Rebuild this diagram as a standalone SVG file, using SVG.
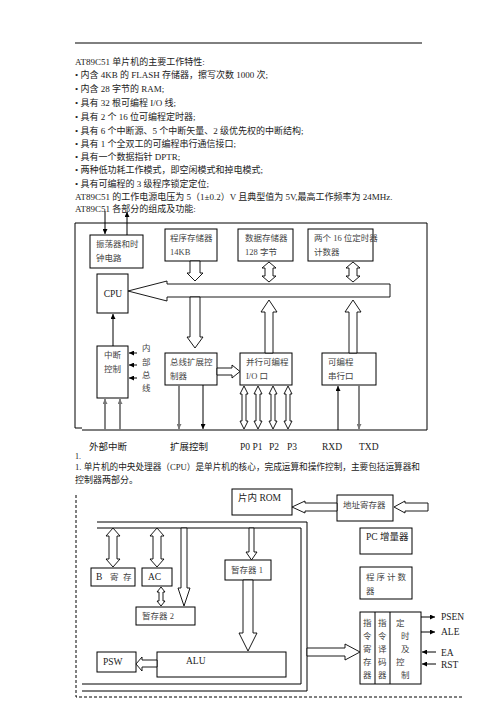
<svg xmlns="http://www.w3.org/2000/svg" width="496" height="702" viewBox="0 0 496 702">
<style>
text{font-family:'Liberation Serif','Noto Sans CJK SC',serif;fill:#222}
.p{font-size:9px}
.l{font-size:8.5px;fill:#444}
.m{font-size:9.5px}
.b{fill:#fff;stroke:#000;stroke-width:1}
.h{fill:#fff;stroke:#000;stroke-width:0.9}
.ln{stroke:#000;stroke-width:1;fill:none}
.g{stroke:#777;stroke-width:1.8;fill:none}
</style>
<defs>
<marker id="ah" viewBox="0 0 10 10" refX="10" refY="5" markerWidth="5" markerHeight="5" markerUnits="userSpaceOnUse" orient="auto"><path d="M0,0 L10,5 L0,10 z" fill="#000"/></marker>
<marker id="ag" viewBox="0 0 10 10" refX="10" refY="5" markerWidth="5" markerHeight="5" markerUnits="userSpaceOnUse" orient="auto"><path d="M0,0 L10,5 L0,10 z" fill="#777"/></marker>
</defs>

<line x1="75" y1="43" x2="422" y2="43" stroke="#000" stroke-width="1"/>
<g id="intro">
<text class="p" x="75" y="65">AT89C51 单片机的主要工作特性:</text>
<text class="p" x="75" y="78">• 内含 4KB 的 FLASH 存储器，擦写次数 1000 次;</text>
<text class="p" x="75" y="92">• 内含 28 字节的 RAM;</text>
<text class="p" x="75" y="106">• 具有 32 根可编程 I/O 线;</text>
<text class="p" x="75" y="120">• 具有 2 个 16 位可编程定时器;</text>
<text class="p" x="75" y="134">• 具有 6 个中断源、5 个中断矢量、2 级优先权的中断结构;</text>
<text class="p" x="75" y="147">• 具有 1 个全双工的可编程串行通信接口;</text>
<text class="p" x="75" y="160">• 具有一个数据指针 DPTR;</text>
<text class="p" x="75" y="173">• 两种低功耗工作模式，即空闲模式和掉电模式;</text>
<text class="p" x="75" y="187">• 具有可编程的 3 级程序锁定定位;</text>
<text class="p" x="75" y="200">AT89C51 的工作电源电压为 5（1±0.2）V 且典型值为 5V,最高工作频率为 24MHz.</text>
<text class="p" x="75" y="212">AT89C51 各部分的组成及功能:</text>
</g>

<g id="frame1"><path class="ln" d="M75 223 H427 V430 H82 M75 223 V428 H82"/></g>

<g id="osc"><rect class="b" x="90" y="235" width="53" height="33"/><text class="l" x="96" y="247">振荡器和时</text><text class="l" x="96" y="261">钟电路</text></g>
<g id="prog"><rect class="b" x="165" y="229" width="52" height="32"/><text class="l" x="170" y="241">程序存储器</text><text class="l" x="170" y="255">14KB</text></g>
<g id="data"><rect class="b" x="238" y="229" width="55" height="32"/><text class="l" x="245" y="241">数据存储器</text><text class="l" x="245" y="255">128 字节</text></g>
<g id="timer"><rect class="b" x="308" y="229" width="65" height="32"/><text class="l" x="314" y="241">两个 16 位定时器</text><text class="l" x="314" y="255">计数器</text></g>
<g id="cpu"><rect class="b" x="97" y="274" width="31" height="39"/><text class="m" x="113" y="297" text-anchor="middle">CPU</text></g>
<g id="int"><rect class="b" x="97" y="346" width="31" height="52"/><text class="l" x="104" y="358">中断</text><text class="l" x="104" y="372">控制</text></g>
<g id="busctl"><rect class="b" x="165" y="353" width="52" height="32"/><text class="l" x="170" y="365">总线扩展控</text><text class="l" x="170" y="379">制器</text></g>
<g id="pio"><rect class="b" x="240" y="353" width="52" height="32"/><text class="l" x="246" y="365">并行可编程</text><text class="l" x="246" y="379">I/O 口</text></g>
<g id="sio"><rect class="b" x="322" y="353" width="54" height="32"/><text class="l" x="328" y="365">可编程</text><text class="l" x="328" y="379">串行口</text></g>
<g id="ibus"><text class="l" x="142" y="351">内</text><text class="l" x="142" y="365">部</text><text class="l" x="142" y="378">总</text><text class="l" x="142" y="391">线</text></g>

<g id="conn1">
<line class="ln" x1="105" y1="211" x2="105" y2="234" marker-end="url(#ah)"/>
<line class="ln" x1="127" y1="235" x2="127" y2="212" marker-end="url(#ah)"/>
<polygon class="h" points="128,291 167,281 167,284 390,284 390,297 167,297 167,301"/>
<polygon class="h" points="190,261 200,261 200,273 203,273 195,281 187,273 190,273"/>
<polygon class="h" points="269,262 276,268 273,268 273,276 276,276 269,282 262,276 265,276 265,268 262,268"/>
<polygon class="h" points="353,262 360,268 357,268 357,276 360,276 353,282 346,276 349,276 349,268 346,268"/>
<polygon class="h" points="190,297 200,297 200,337 203,337 195,348 187,337 190,337"/>
<polygon class="h" points="269,300 277,312 273,312 273,353 265,353 265,312 261,312"/>
<polygon class="h" points="353,300 361,312 357,312 357,353 349,353 349,312 345,312"/>
<line class="ln" x1="113" y1="346" x2="113" y2="314" marker-end="url(#ah)"/>
<line class="ln" x1="137" y1="353" x2="129" y2="353" marker-end="url(#ah)"/>
<line class="ln" x1="137" y1="365" x2="129" y2="365" marker-end="url(#ah)"/>
<line class="ln" x1="137" y1="378" x2="129" y2="378" marker-end="url(#ah)"/>
<line class="g" x1="105" y1="430" x2="105" y2="399" marker-end="url(#ag)"/>
<line class="g" x1="120" y1="430" x2="120" y2="399" marker-end="url(#ag)"/>
<polygon class="h" points="217,368 232,368 232,365 240,371.5 232,378 232,375 217,375"/>
<line class="g" x1="179" y1="385" x2="179" y2="429" marker-end="url(#ag)"/>
<line class="ln" x1="203" y1="385" x2="203" y2="429" marker-end="url(#ah)"/>
<polygon class="h" points="244,386 248,394 246,394 246,421 248,421 244,429 240,421 242,421 242,394 240,394"/>
<polygon class="h" points="258,386 262,394 260,394 260,421 262,421 258,429 254,421 256,421 256,394 254,394"/>
<polygon class="h" points="273,386 277,394 275,394 275,421 277,421 273,429 269,421 271,421 271,394 269,394"/>
<polygon class="h" points="288,386 292,394 290,394 290,421 292,421 288,429 284,421 286,421 286,394 284,394"/>
<line class="ln" x1="338" y1="430" x2="338" y2="386" marker-end="url(#ah)"/>
<line class="g" x1="359" y1="385" x2="359" y2="429" marker-end="url(#ag)"/>
</g>

<g id="labels1">
<text class="m" x="89" y="450">外部中断</text>
<text class="m" x="170" y="450">扩展控制</text>
<text class="m" x="240" y="450">P0 P1</text>
<text class="m" x="269" y="450">P2</text>
<text class="m" x="287" y="450">P3</text>
<text class="m" x="322" y="450">RXD</text>
<text class="m" x="359" y="450">TXD</text>
<text style="font-size:8px" x="75" y="459">1.</text>
<text class="p" x="75" y="470" textLength="345" lengthAdjust="spacingAndGlyphs">1. 单片机的中央处理器（CPU）是单片机的核心，完成运算和操作控制，主要包括运算器和</text>
<text class="p" x="75" y="483">控制器两部分。</text>
</g>

<g id="frame2">
<path class="ln" d="M76 495 V697 H462" stroke-dasharray="3,2"/>
<path class="ln" d="M97 522 H307 V691 H82 M97 528 H301 V684 H82"/>
</g>

<g id="rom"><rect class="b" x="232" y="489" width="60" height="26"/><text class="m" x="238" y="501">片内 ROM</text></g>
<g id="addr"><rect class="b" x="337" y="495" width="56" height="26"/><text class="l" x="343" y="508">地址寄存器</text></g>
<g id="breg"><rect class="b" x="91" y="568" width="44" height="18"/><text class="m" x="96" y="580">B</text><text class="l" x="110" y="580">寄</text><text class="l" x="123" y="580">存</text></g>
<g id="ac"><rect class="b" x="142" y="568" width="30" height="18"/><text class="m" x="148" y="580">AC</text></g>
<g id="tmp2"><rect class="b" x="136" y="607" width="59" height="18"/><text class="l" x="142" y="619">暂存器 2</text></g>
<g id="tmp1"><rect class="b" x="225" y="560" width="46" height="20"/><text class="l" x="231" y="573">暂存器 1</text></g>
<g id="alu"><rect class="b" x="157" y="652" width="129" height="25"/><text class="m" x="186" y="664">ALU</text></g>
<g id="psw"><rect class="b" x="97" y="652" width="39" height="20"/><text class="m" x="103" y="665">PSW</text></g>
<g id="pcinc"><rect class="b" x="360" y="528" width="52" height="26"/><text class="m" x="366" y="540">PC 增量器</text></g>
<g id="pc"><rect class="b" x="360" y="567" width="52" height="32"/><text class="l" x="366" y="580" letter-spacing="2">程序计数</text><text class="l" x="366" y="594">器</text></g>
<g id="ctl">
<rect class="b" x="360" y="612" width="61" height="72"/>
<line class="ln" x1="375" y1="612" x2="375" y2="684"/>
<line class="ln" x1="390" y1="612" x2="390" y2="684"/>
<text class="l" x="363" y="626">指</text><text class="l" x="363" y="639">令</text><text class="l" x="363" y="652">寄</text><text class="l" x="363" y="665">存</text><text class="l" x="363" y="678">器</text>
<text class="l" x="378" y="626">指</text><text class="l" x="378" y="639">令</text><text class="l" x="378" y="652">译</text><text class="l" x="378" y="665">码</text><text class="l" x="378" y="678">器</text>
<text class="l" x="396" y="626">定</text><text class="l" x="401" y="639">时</text><text class="l" x="401" y="652">及</text><text class="l" x="396" y="665">控</text><text class="l" x="401" y="678">制</text>
</g>

<g id="conn2">
<polygon class="h" points="292,507 305,501 305,503 337,503 337,511 305,511 305,513"/>
<polygon class="h" points="394,507 405,501 405,503 428,503 428,511 405,511 405,513"/>
<polygon class="h" points="113,528 120,536 117,536 117,559 120,559 113,567 106,559 109,559 109,536 106,536"/>
<polygon class="h" points="157,528 164,536 161,536 161,559 164,559 157,567 150,559 153,559 153,536 150,536"/>
<polygon class="h" points="181,528 187,528 187,588 190,588 184,606 178,588 181,588"/>
<polygon class="h" points="161,587 165,592 163,592 163,601 165,601 161,606 157,601 159,601 159,592 157,592"/>
<polygon class="h" points="249,528 254,528 254,552 257,552 251.5,560 246,552 249,552"/>
<polygon class="h" points="243,580 253,580 253,633 257,633 248,651 239,633 243,633"/>
<polygon class="h" points="136,664 142,657 142,660 157,660 157,667 142,667 142,671"/>
<polygon class="h" points="307,648 345,648 345,644 360,652 345,660 345,656 307,656"/>
<line class="ln" x1="421" y1="617" x2="435" y2="617" marker-end="url(#ah)"/>
<line class="ln" x1="421" y1="632" x2="435" y2="632" marker-end="url(#ah)"/>
<line class="ln" x1="436" y1="652" x2="422" y2="652" marker-end="url(#ah)"/>
<line class="ln" x1="436" y1="664" x2="422" y2="664" marker-end="url(#ah)"/>
</g>
<g id="sig">
<text class="m" x="441" y="620">PSEN</text>
<text class="m" x="441" y="635">ALE</text>
<text class="m" x="441" y="656">EA</text>
<text class="m" x="441" y="668">RST</text>
</g>
</svg>
